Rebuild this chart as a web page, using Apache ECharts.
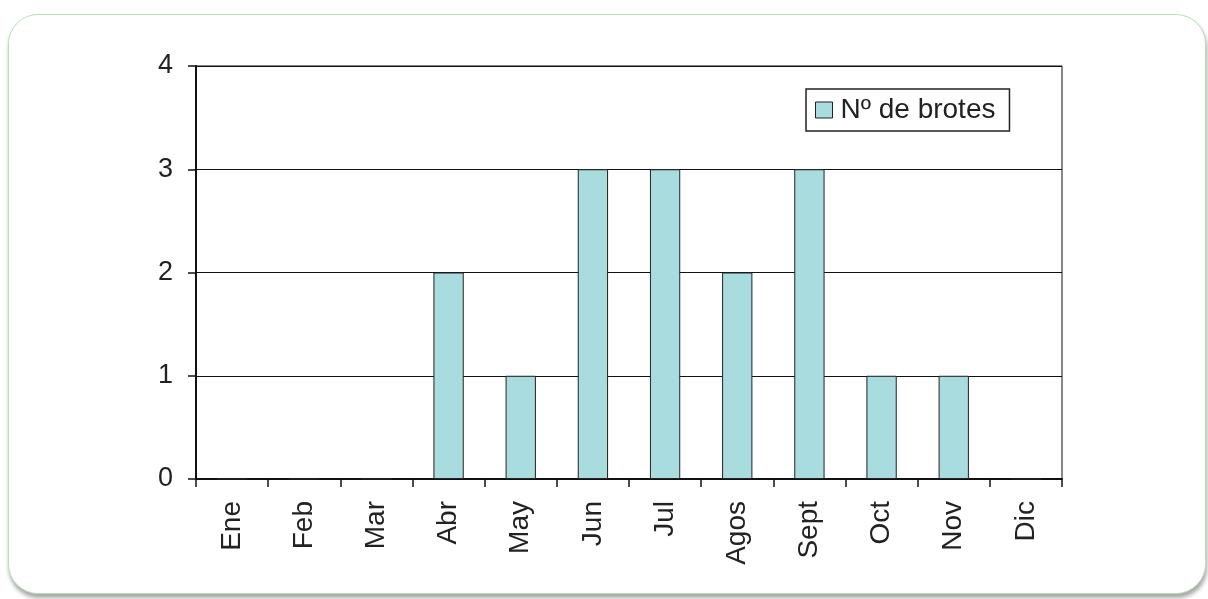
<!DOCTYPE html>
<html>
<head>
<meta charset="utf-8">
<script src="https://cdn.jsdelivr.net/npm/echarts@6/dist/echarts.min.js"></script>
<style>
html,body{margin:0;padding:0;background:#fff;}
#frame{position:absolute;left:8px;top:14px;width:1196px;height:578px;border:1px solid #b8e2b2;border-radius:30px;box-shadow:1px 4px 4px rgba(0,0,0,0.35);background:#fff;}
#chart{position:absolute;left:0;top:0;width:1208px;height:599px;}
</style>
</head>
<body>
<div id="frame"></div>
<div id="chart"></div>
<script>
const categories = ['Ene','Feb','Mar','Abr','May','Jun','Jul','Agos','Sept','Oct','Nov','Dic'];
const brotes = [0,0,0,2,1,3,3,2,3,1,1,0];
const yTicks = [0,1,2,3,4];
const seriesName = 'Nº de brotes';

const chart = echarts.init(document.getElementById('chart'));
const font = 'Liberation Sans, Arial, sans-serif';
chart.setOption({
  animation:false,
  backgroundColor:'transparent',
  grid:{left:196,right:146,top:66,bottom:120,show:true,borderColor:'#111',borderWidth:1,containLabel:false},
  legend:{
    show:true,left:806,top:89,orient:'horizontal',
    padding:[7,14,7,9],
    borderColor:'#222',borderWidth:1.5,borderRadius:0,
    itemWidth:17,itemHeight:16,itemGap:5,
    icon:'rect',
    itemStyle:{borderColor:'#222',borderWidth:1},
    textStyle:{fontFamily:font,fontSize:28,color:'#222',padding:[0,0,0,3]},
    data:[seriesName]
  },
  xAxis:{
    type:'category',data:categories,boundaryGap:true,
    axisLine:{show:true,lineStyle:{color:'#111',width:2}},
    axisTick:{show:true,alignWithLabel:false,interval:0,length:8,lineStyle:{color:'#111',width:1.5}},
    axisLabel:{interval:0,rotate:90,margin:22,fontFamily:font,fontSize:28,color:'#222'}
  },
  yAxis:{
    type:'value',min:yTicks[0],max:yTicks[yTicks.length-1],interval:1,
    axisLine:{show:true,lineStyle:{color:'#111',width:2}},
    axisTick:{show:true,length:8,lineStyle:{color:'#111',width:1.5}},
    axisLabel:{margin:23,fontFamily:font,fontSize:27,color:'#222'},
    splitLine:{show:true,lineStyle:{color:'#111',width:1}}
  },
  series:[{
    name:seriesName,type:'bar',data:brotes,barWidth:'42%',
    itemStyle:{color:'#a9dcdf',borderColor:'#222',borderWidth:1}
  }]
});
</script>
</body>
</html>
